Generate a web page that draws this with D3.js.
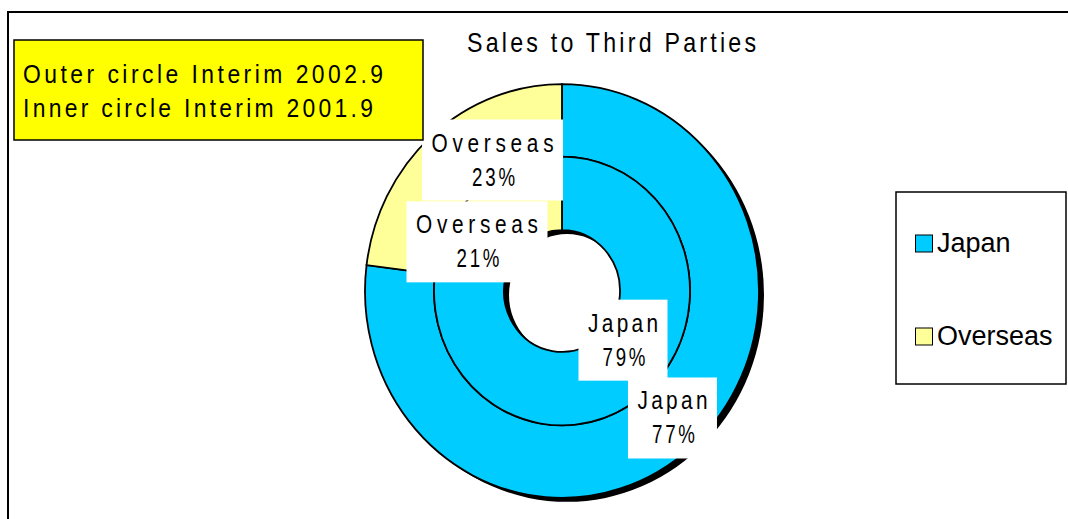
<!DOCTYPE html>
<html>
<head>
<meta charset="utf-8">
<script src="https://cdn.jsdelivr.net/npm/d3@7"></script>
<style>
  html, body { margin: 0; padding: 0; background: #fff; }
  svg { display: block; }
  text { font-family: "Liberation Sans", Arial, sans-serif; fill: #000; }
</style>
</head>
<body>
<svg id="chart" width="1068" height="519"></svg>
<script>
// ---- data ----
const categories = ["Japan", "Overseas"];
const outerValues = [77, 23];   // Interim 2002.9
const innerValues = [79, 21];   // Interim 2001.9
const chartTitle = "Sales to Third Parties";
const noteLines = ["Outer circle Interim 2002.9", "Inner circle Interim 2001.9"];

// ---- styling / layout ----
const colorOf = d3.scaleOrdinal().domain(categories).range(["#00CCFF", "#FFFF99"]);
const W = 1068, H = 519;
const cx = 562, cy = 291, yStretch = 1.05;
const rHole = 58, rMid = 128, rOuter = 197;
const shadow = { dx: 5, dy: 4 };

const svg = d3.select("#chart");

// narrow, widely spaced text: glyphs squeezed by sx, spacing fills the given width
function spacedText(parent, str, x, y, size, width, sx) {
  return parent.append("text")
    .attr("transform", `translate(${x},${y}) scale(${sx},1)`)
    .attr("font-size", size)
    .attr("textLength", width / sx)
    .attr("lengthAdjust", "spacing")
    .text(str);
}

// outer frame (runs past the right and bottom edges)
svg.append("rect")
  .attr("x", 8).attr("y", 12)
  .attr("width", W + 20).attr("height", H + 20)
  .attr("fill", "#fff").attr("stroke", "#000").attr("stroke-width", 2);

// title
spacedText(svg, chartTitle, 467, 52, 27, 289, 0.86);

// ---- doughnut ----
const pie = d3.pie().sort(null).value(d => d.value).startAngle(0).endAngle(2 * Math.PI);
const outerArcs = pie(categories.map((c, i) => ({ cat: c, value: outerValues[i] })));
const innerArcs = pie(categories.map((c, i) => ({ cat: c, value: innerValues[i] })));

const outerArc = d3.arc().innerRadius(rMid).outerRadius(rOuter);
const innerArc = d3.arc().innerRadius(rHole).outerRadius(rMid);
const fullRing = d3.arc().innerRadius(rHole).outerRadius(rOuter).startAngle(0).endAngle(2 * Math.PI);

const toScreen = ([x, y]) => [cx + x, cy + y * yStretch];

// drop shadow behind the whole doughnut
svg.append("path")
  .attr("transform", `translate(${cx + shadow.dx},${cy + shadow.dy}) scale(1,${yStretch})`)
  .attr("d", fullRing())
  .attr("fill", "#000");

const ring = svg.append("g")
  .attr("transform", `translate(${cx},${cy}) scale(1,${yStretch})`);

ring.selectAll("path.outer")
  .data(outerArcs)
  .join("path")
  .attr("class", "outer")
  .attr("d", outerArc)
  .attr("fill", d => colorOf(d.data.cat))
  .attr("stroke", "#000")
  .attr("stroke-width", 1.8)
  .attr("vector-effect", "non-scaling-stroke");

ring.selectAll("path.inner")
  .data(innerArcs)
  .join("path")
  .attr("class", "inner")
  .attr("d", innerArc)
  .attr("fill", d => colorOf(d.data.cat))
  .attr("stroke", "#000")
  .attr("stroke-width", 1.8)
  .attr("vector-effect", "non-scaling-stroke");

// ---- data labels (white boxes nudged away from each segment centroid) ----
const labelNudge = {
  "outer-Japan": [3, -1], "outer-Overseas": [38, -3],
  "inner-Japan": [4, -28], "inner-Overseas": [-28, 28]
};
const labelFont = 26;
const nameWidth = { "Japan": 70, "Overseas": 122 };
const pctWidth = 43;

function drawLabels(arcs, arcGen, ringName) {
  arcs.forEach(d => {
    const [px, py] = toScreen(arcGen.centroid(d));
    const [nx, ny] = labelNudge[`${ringName}-${d.data.cat}`];
    const bx = px + nx, by = py + ny;
    const nw = nameWidth[d.data.cat];
    const boxW = nw + 19, boxH = 81;
    const g = svg.append("g");
    g.append("rect")
      .attr("x", bx - boxW / 2).attr("y", by - boxH / 2)
      .attr("width", boxW).attr("height", boxH)
      .attr("fill", "#fff");
    spacedText(g, d.data.cat, bx - nw / 2, by - boxH / 2 + 32, labelFont, nw, 0.8);
    spacedText(g, `${d.data.value}%`, bx - pctWidth / 2 + 1, by - boxH / 2 + 66, labelFont, pctWidth, 0.72);
  });
}
drawLabels(innerArcs, innerArc, "inner");
drawLabels(outerArcs, outerArc, "outer");

// ---- note box ----
svg.append("rect")
  .attr("x", 14).attr("y", 40).attr("width", 409).attr("height", 100)
  .attr("fill", "#FFFF00").attr("stroke", "#000").attr("stroke-width", 1.5);
const noteWidths = [360, 350];
noteLines.forEach((t, i) => {
  spacedText(svg, t, 23, 83 + i * 34, 26, noteWidths[i], 0.88);
});

// ---- legend ----
svg.append("rect")
  .attr("x", 896).attr("y", 192).attr("width", 170).attr("height", 192)
  .attr("fill", "#fff").attr("stroke", "#000").attr("stroke-width", 1.5);
const legendY = d3.scalePoint().domain(categories).range([252, 345]);
const leg = svg.selectAll("g.legend")
  .data(categories)
  .join("g")
  .attr("class", "legend")
  .attr("transform", d => `translate(915,${legendY(d)})`);
leg.append("rect")
  .attr("x", 0.5).attr("y", -17).attr("width", 17).attr("height", 17)
  .attr("fill", d => colorOf(d)).attr("stroke", "#000").attr("stroke-width", 1);
leg.append("text")
  .attr("x", 22).attr("y", 0)
  .attr("font-size", 27)
  .text(d => d);
</script>
</body>
</html>
